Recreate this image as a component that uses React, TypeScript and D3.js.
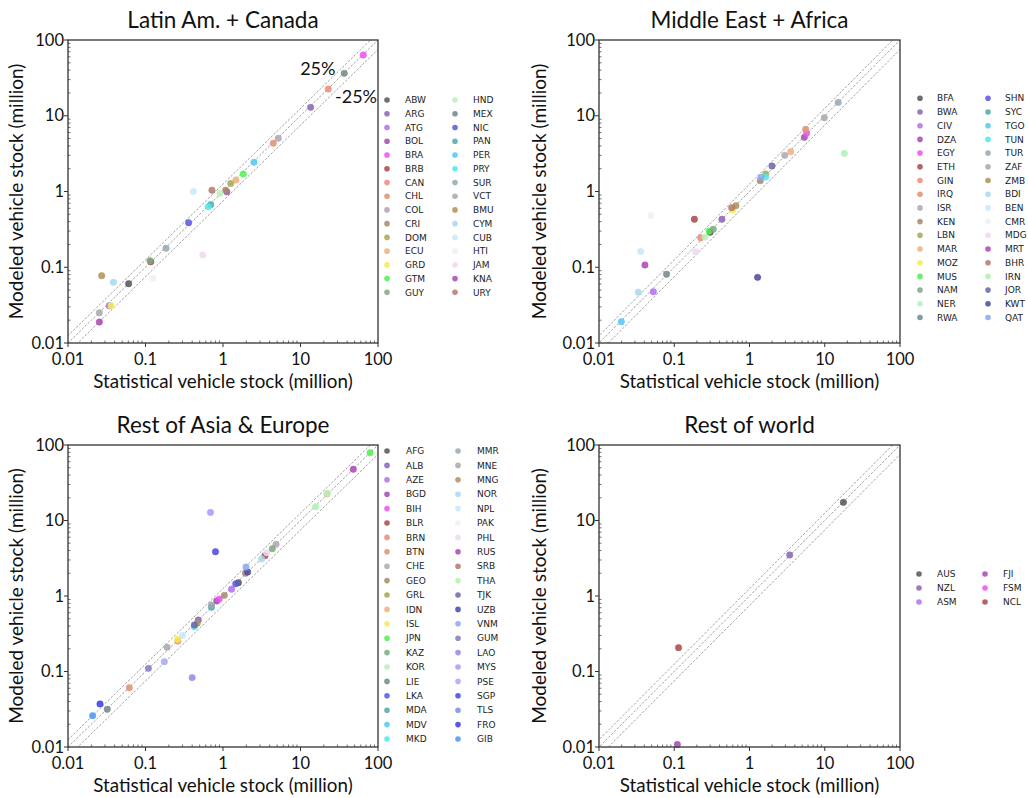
import React from "react";
import * as d3 from "d3";

const PALETTE = [
  "#555555", "#8a65b5", "#b070f0", "#a54ab0", "#f050f0", "#a84848", "#f08878",
  "#e09070", "#b0a5b5", "#a88868", "#a8a850", "#f0b080", "#f0f050", "#50f050",
  "#80a880", "#b8f0b8", "#708888", "#5858e0", "#50a8a8", "#50c8f8", "#50e8f0",
  "#98a8b0", "#a8a8a8", "#b09058", "#a8d8f0", "#c8e8f8", "#f0f0f4", "#f0d8f0",
  "#a848b0", "#b87868", "#b0f0b0", "#6868a8", "#4848a0", "#88a8f0", "#8878c0",
  "#9888e0", "#a898f8", "#a8a8f8", "#4848d8", "#7890e0", "#3838f0", "#4898f0",
];

const TICKS = [0.01, 0.1, 1, 10, 100];
const TICK_LABELS = ["0.01", "0.1", "1", "10", "100"];
const BANDS = [1, 1.25, 0.75];

// Latin America + Canada
const latamCodes = ["ABW","ARG","ATG","BOL","BRA","BRB","CAN","CHL","COL","CRI","DOM","ECU","GRD","GTM","GUY","HND","MEX","NIC","PAN","PER","PRY","SUR","VCT","BMU","CYM","CUB","HTI","JAM","KNA","URY"];
const latamStat = [0.0606,13.5,0.034,1.12,64.6,0.117,22.8,4.46,5.17,1.08,1.26,1.47,0.036,1.83,0.114,0.914,36.7,0.36,0.694,2.51,0.646,0.184,0.0254,0.0272,0.0385,0.414,0.124,0.547,0.0254,0.72];
const latamModel = [0.0606,12.9,0.031,0.99,63.4,0.118,22.5,4.33,5.04,1.04,1.28,1.42,0.0311,1.70,0.122,0.946,36.3,0.387,0.67,2.43,0.63,0.178,0.0251,0.0773,0.0633,1.0,0.0715,0.145,0.0189,1.04];

// Middle East + Africa
const meaCodes = ["BFA","BWA","CIV","DZA","EGY","ETH","GIN","IRQ","ISR","KEN","LBN","MAR","MOZ","MUS","NAM","NER","RWA","SHN","SYC","TGO","TUN","TUR","ZAF","ZMB","BDI","BEN","CMR","MDG","MRT","BHR","IRN","JOR","KWT","QAT"];
const meaStat = [0.30,0.43,0.0527,5.35,5.75,0.185,0.224,5.58,2.94,1.39,1.64,3.53,0.60,0.29,0.33,0.256,0.079,NaN,NaN,0.0198,1.64,15.1,9.87,0.66,0.0333,0.0358,0.049,0.193,0.0408,0.58,18.2,1.99,1.28,1.42];
const meaModel = [0.29,0.43,0.0475,5.19,5.86,0.43,0.245,6.62,3.0,1.39,1.70,3.35,0.57,0.30,0.317,0.25,0.081,NaN,NaN,0.0191,1.55,15.0,9.42,0.65,0.0467,0.162,0.48,0.16,0.107,0.61,3.19,2.17,0.0736,1.54];

// Rest of Asia & Europe
const asiaCodes = ["AFG","ALB","AZE","BGD","BIH","BLR","BRN","BTN","CHE","GEO","GRL","IDN","ISL","JPN","KAZ","KOR","LIE","LKA","MDA","MDV","MKD","MMR","MNE","MNG","NOR","NPL","PAK","PHL","RUS","SRB","THA","TJK","UZB","VNM","GUM","LAO","MYS","PSE","SGP","TLS","FRO","GIB"];
const asiaStat = [1.58,0.48,1.29,0.83,0.895,3.48,0.262,0.0618,4.83,1.04,NaN,22.0,0.26,78.9,4.33,22.4,0.0321,1.46,0.71,NaN,0.427,0.71,0.19,0.465,3.15,0.30,NaN,3.66,48,1.95,15.7,0.427,2.08,1.98,0.109,0.40,0.69,0.175,0.80,NaN,0.0259,0.0208];
const asiaModel = [1.50,0.48,1.23,0.86,0.91,3.42,0.253,0.061,4.84,1.02,NaN,22.5,0.267,79.1,4.23,22.9,0.0316,1.45,0.71,NaN,0.392,0.76,0.21,0.435,3.09,0.30,NaN,3.74,47.7,2.0,15.2,0.413,2.08,2.42,0.11,0.083,12.8,0.135,3.86,NaN,0.0372,0.026];

// Rest of world
const rowCodes = ["AUS","NZL","ASM","FJI","FSM","NCL"];
const rowStat = [17.7,3.42,NaN,0.11,NaN,0.114];
const rowModel = [17.4,3.49,NaN,0.0108,NaN,0.207];

const FONT = "Lato, 'Open Sans', sans-serif";

type PanelDef = {
  id: string;
  title: string;
  codes: string[];
  stat: number[];
  model: number[];
  left: number; top: number; w: number; h: number;
  ylab: number;
  lx: number; ly: number; ldy: number; lcol: number; ltext: number;
  pct: boolean;
};

const panels: PanelDef[] = [
  { id: "p1", title: "Latin Am. + Canada", codes: latamCodes, stat: latamStat, model: latamModel,
    left: 68, top: 40, w: 310, h: 303, ylab: 45, lx: 387, ly: 100, ldy: 13.74, lcol: 68, ltext: 18, pct: true },
  { id: "p2", title: "Middle East + Africa", codes: meaCodes, stat: meaStat, model: meaModel,
    left: 599, top: 40, w: 301, h: 303, ylab: 53, lx: 920, ly: 98.3, ldy: 13.7, lcol: 68, ltext: 17, pct: false },
  { id: "p3", title: "Rest of Asia & Europe", codes: asiaCodes, stat: asiaStat, model: asiaModel,
    left: 68, top: 445, w: 310, h: 302, ylab: 45, lx: 387, ly: 451, ldy: 14.4, lcol: 71, ltext: 19, pct: false },
  { id: "p4", title: "Rest of world", codes: rowCodes, stat: rowStat, model: rowModel,
    left: 599, top: 445, w: 301, h: 302, ylab: 53, lx: 919, ly: 574, ldy: 14, lcol: 66, ltext: 18, pct: false },
];

function minorTicks(): number[] {
  const out: number[] = [];
  for (let e = -2; e < 2; e++) {
    for (let m = 2; m <= 9; m++) out.push(m * Math.pow(10, e));
  }
  return out;
}

function Panel({ p }: { p: PanelDef }) {
  const x = d3.scaleLog().domain([0.01, 100]).range([p.left, p.left + p.w]);
  const y = d3.scaleLog().domain([0.01, 100]).range([p.top + p.h, p.top]);
  const minors = minorTicks();
  const half = Math.ceil(p.codes.length / 2);
  const pts = p.codes
    .map((c, i) => ({ c, i, sx: p.stat[i], my: p.model[i] }))
    .filter((d) => isFinite(d.sx) && isFinite(d.my));
  const cx = p.left + p.w / 2;
  const cy = p.top + p.h / 2;
  return (
    <g>
      <defs>
        <clipPath id={`clip-${p.id}`}>
          <rect x={p.left} y={p.top} width={p.w} height={p.h} />
        </clipPath>
      </defs>
      <text x={cx} y={p.top - 12} textAnchor="middle" fontFamily={FONT} fontSize={22.5} fill="#111">
        {p.title}
      </text>
      <g clipPath={`url(#clip-${p.id})`}>
        {BANDS.map((f, k) => {
          const xs = [0.001, 1000];
          const d = d3.line<number>().x((v) => x(v)).y((v) => y(v * f))(xs) || "";
          return <path key={k} d={d} fill="none" stroke="#888" strokeWidth={0.8} strokeDasharray="2.4,1.6" />;
        })}
      </g>
      {pts.map((d) => (
        <circle key={d.c} cx={x(d.sx)} cy={y(d.my)} r={3.2}
          fill={PALETTE[d.i % PALETTE.length]} fillOpacity={0.85}
          stroke={PALETTE[d.i % PALETTE.length]} strokeWidth={0.5} />
      ))}
      <rect x={p.left} y={p.top} width={p.w} height={p.h} fill="none" stroke="#333" strokeWidth={1.3} />
      {minors.map((v, k) => (
        <g key={k} stroke="#333" strokeWidth={0.7}>
          <line x1={x(v)} x2={x(v)} y1={p.top + p.h} y2={p.top + p.h - 2.5} />
          <line x1={p.left} x2={p.left + 2.5} y1={y(v)} y2={y(v)} />
        </g>
      ))}
      {TICKS.map((v, k) => (
        <g key={k}>
          <line x1={x(v)} x2={x(v)} y1={p.top + p.h} y2={p.top + p.h + 4} stroke="#333" strokeWidth={1} />
          <line x1={p.left - 4} x2={p.left} y1={y(v)} y2={y(v)} stroke="#333" strokeWidth={1} />
          <text x={x(v)} y={p.top + p.h + 22} textAnchor="middle" fontFamily={FONT} fontSize={16.5} fill="#111">
            {TICK_LABELS[k]}
          </text>
          <text x={p.left - 4} y={y(v)} dy="0.34em" textAnchor="end" fontFamily={FONT} fontSize={16.5} fill="#111">
            {TICK_LABELS[k]}
          </text>
        </g>
      ))}
      <text x={cx} y={p.top + p.h + 45} textAnchor="middle" fontFamily={FONT} fontSize={18.8} fill="#111">
        Statistical vehicle stock (million)
      </text>
      <text transform={`translate(${p.left - p.ylab},${cy}) rotate(-90)`} textAnchor="middle" fontFamily={FONT} fontSize={19} fill="#111">
        Modeled vehicle stock (million)
      </text>
      {p.pct && (
        <g fontFamily={FONT} fontSize={18} fill="#111">
          <text x={x(9.9)} y={y(41.4)} dy="0.36em">25%</text>
          <text x={x(27.9)} y={y(18.2)} dy="0.36em">-25%</text>
        </g>
      )}
      {p.codes.map((c, i) => {
        const col = i < half ? 0 : 1;
        const row = i < half ? i : i - half;
        const mx = p.lx + col * p.lcol;
        const my = p.ly + row * p.ldy;
        const color = PALETTE[i % PALETTE.length];
        return (
          <g key={c}>
            <circle cx={mx} cy={my} r={2.8} fill={color} fillOpacity={0.85} />
            <text x={mx + p.ltext} y={my} dy="0.35em" fontFamily="'DejaVu Sans', sans-serif" fontSize={9} fill="#222">
              {c}
            </text>
          </g>
        );
      })}
    </g>
  );
}

export default function App() {
  return (
    <svg width={1028} height={798} style={{ position: "absolute", left: 0, top: 0, background: "#fff" }}>
      <rect width={1028} height={798} fill="#fff" />
      {panels.map((p) => (
        <Panel key={p.id} p={p} />
      ))}
    </svg>
  );
}
